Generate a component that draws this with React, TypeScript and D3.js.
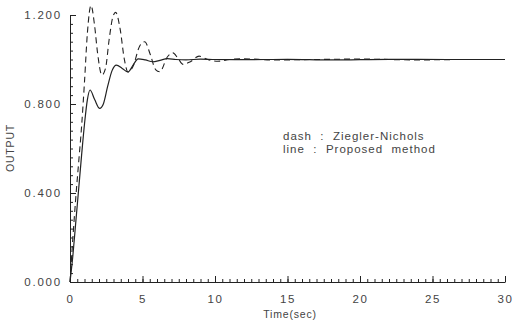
import * as d3 from "d3";
import React, { useEffect, useRef } from "react";

// Ziegler-Nichols step response (dashed)
const tDash = [0, 0.2, 0.4, 0.6, 0.8, 1.0, 1.2, 1.45, 1.7, 1.9, 2.2, 2.45, 2.7, 2.95, 3.15, 3.45, 3.75, 4.0, 4.35, 4.8, 5.15, 5.55, 5.9, 6.2, 6.7, 7.1, 7.45, 7.8, 8.3, 8.9, 9.5, 10.2, 11, 12, 14, 17, 20, 24, 27, 30];
const yDash = [0, 0.2, 0.38, 0.54, 0.7, 0.9, 1.12, 1.243, 1.15, 1.03, 0.93, 0.96, 1.09, 1.19, 1.212, 1.14, 1.0, 0.944, 0.97, 1.06, 1.08, 1.02, 0.955, 0.945, 1.01, 1.03, 1.005, 0.978, 0.99, 1.015, 1.0, 0.992, 1.0, 1.003, 0.998, 1.0, 1.002, 0.998, 1.0, 1.0];

// proposed method step response (solid)
const tLine = [0, 0.2, 0.4, 0.6, 0.8, 1.0, 1.2, 1.38, 1.7, 2.05, 2.3, 2.6, 2.9, 3.2, 3.6, 4.0, 4.35, 4.7, 5.2, 5.7, 6.2, 6.7, 7.3, 8, 9, 10, 12, 15, 18, 22, 26, 30];
const yLine = [0, 0.12, 0.27, 0.42, 0.57, 0.71, 0.82, 0.863, 0.82, 0.78, 0.8, 0.88, 0.95, 0.975, 0.96, 0.944, 0.975, 1.003, 0.998, 0.99, 0.996, 1.004, 1.0, 0.998, 1.002, 1.0, 0.999, 1.001, 0.998, 1.001, 1.0, 1.0];

const xTicks = [0, 5, 10, 15, 20, 25, 30];
const yTicks = [0, 0.4, 0.8, 1.2];

const legendLines = ["dash  :  Ziegler-Nichols", "line  :  Proposed  method"];

export default function App() {
  const ref = useRef<SVGSVGElement>(null);

  useEffect(() => {
    const svg = d3.select(ref.current);
    svg.selectAll("*").remove();
    const font = "'Liberation Sans', Arial, sans-serif";
    const ink = "#222";
    const textInk = "#444";

    const x = d3.scaleLinear().domain([0, 30]).range([70, 505]);
    const y = d3.scaleLinear().domain([0, 1.2]).range([282, 15]);

    // y axis
    const yAxis = d3
      .axisLeft(y)
      .tickValues(yTicks)
      .tickSizeInner(-6)
      .tickSizeOuter(0)
      .tickPadding(8)
      .tickFormat(d3.format(".3f") as any);
    const gy = svg.append("g").attr("transform", "translate(70,0)").call(yAxis);
    gy.select(".domain").attr("stroke", ink);
    gy.selectAll(".tick line").attr("stroke", ink);
    gy.selectAll(".tick text")
      .attr("fill", textInk)
      .attr("font-family", font)
      .attr("font-size", 11.5)
      .attr("letter-spacing", 1.8);
    const yMinor = d3
      .axisLeft(y)
      .tickValues(d3.range(0, 1.2001, 0.04))
      .tickSizeInner(-3)
      .tickSizeOuter(0)
      .tickFormat(() => "");
    const gym = svg.append("g").attr("transform", "translate(70,0)").call(yMinor);
    gym.select(".domain").remove();
    gym.selectAll(".tick line").attr("stroke", ink);

    // x axis
    const xAxis = d3
      .axisBottom(x)
      .tickValues(xTicks)
      .tickSizeInner(-6)
      .tickSizeOuter(0)
      .tickPadding(13);
    const gx = svg.append("g").attr("transform", "translate(0,282)").call(xAxis);
    gx.select(".domain").attr("stroke", ink);
    gx.selectAll(".tick line").attr("stroke", ink);
    gx.selectAll(".tick text")
      .attr("fill", textInk)
      .attr("font-family", font)
      .attr("font-size", 11.5)
      .attr("letter-spacing", 1.5);
    const xMinor = d3
      .axisBottom(x)
      .tickValues(d3.range(0, 30.001, 0.5))
      .tickSizeInner(-3)
      .tickSizeOuter(0)
      .tickFormat(() => "");
    const gxm = svg.append("g").attr("transform", "translate(0,282)").call(xMinor);
    gxm.select(".domain").remove();
    gxm.selectAll(".tick line").attr("stroke", ink);

    // axis titles
    svg
      .append("text")
      .text("Time(sec)")
      .attr("x", 290)
      .attr("y", 318)
      .attr("text-anchor", "middle")
      .attr("fill", textInk)
      .attr("font-family", font)
      .attr("font-size", 10.5)
      .attr("letter-spacing", 0.8);
    svg
      .append("text")
      .text("OUTPUT")
      .attr("transform", "translate(14,148) rotate(-90)")
      .attr("text-anchor", "middle")
      .attr("fill", textInk)
      .attr("font-family", font)
      .attr("font-size", 10.5)
      .attr("letter-spacing", 0.8);

    // curves
    const line = d3
      .line<[number, number]>()
      .curve(d3.curveMonotoneX)
      .x((d) => x(d[0]))
      .y((d) => y(d[1]));

    svg
      .append("path")
      .datum(tDash.map((t, i) => [t, yDash[i]] as [number, number]))
      .attr("fill", "none")
      .attr("stroke", ink)
      .attr("stroke-width", 1.1)
      .attr("stroke-dasharray", "6,4")
      .attr("d", line);

    svg
      .append("path")
      .datum(tLine.map((t, i) => [t, yLine[i]] as [number, number]))
      .attr("fill", "none")
      .attr("stroke", ink)
      .attr("stroke-width", 1.2)
      .attr("d", line);

    // legend note
    svg
      .selectAll(".note")
      .data(legendLines)
      .enter()
      .append("text")
      .attr("class", "note")
      .text((d) => d)
      .attr("x", 283)
      .attr("y", (d, i) => 140 + i * 13)
      .attr("fill", textInk)
      .attr("font-family", font)
      .attr("font-size", 11.5)
      .attr("letter-spacing", 1)
      .style("white-space", "pre");
  }, []);

  return (
    <svg
      ref={ref}
      width={517}
      height={327}
      style={{ position: "absolute", left: 0, top: 0, background: "#fff" }}
    />
  );
}
